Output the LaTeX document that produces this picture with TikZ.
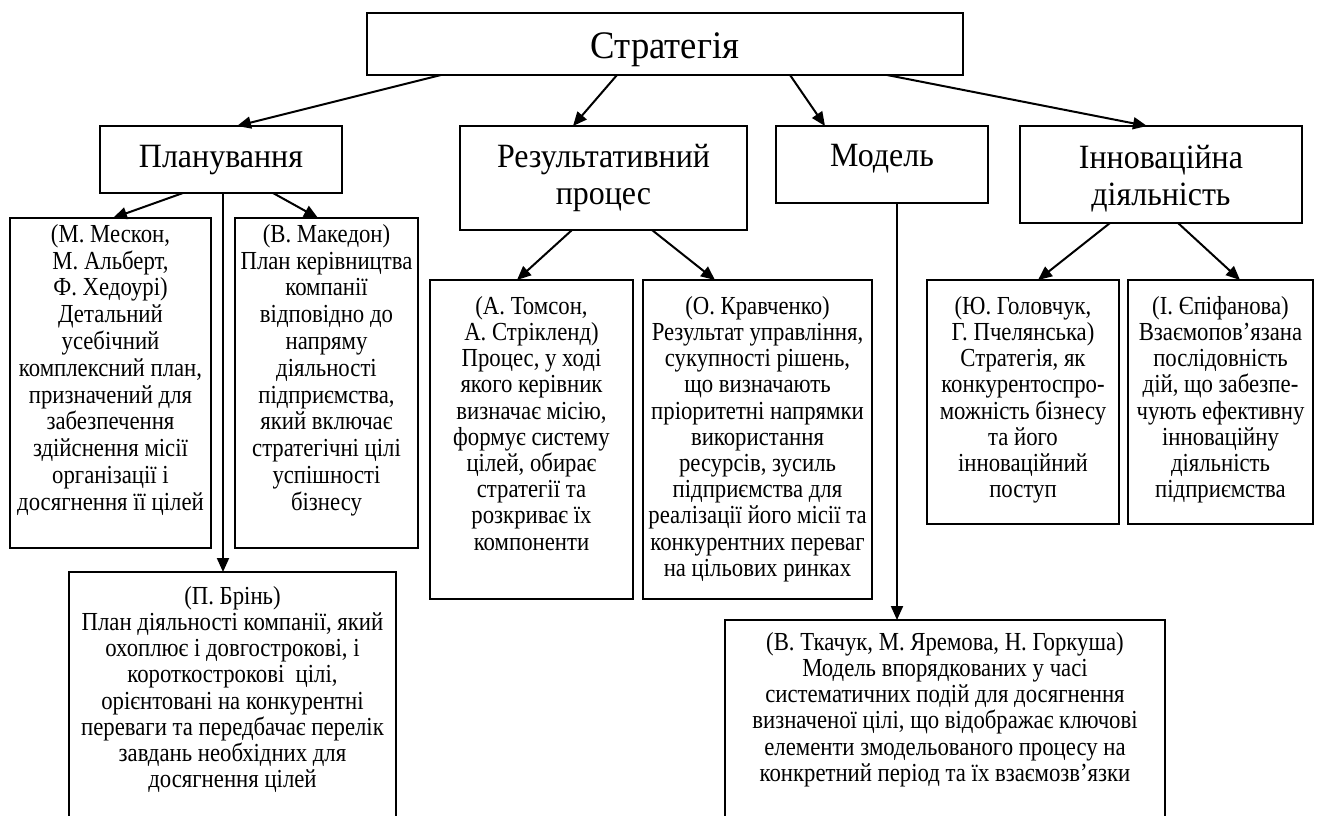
\documentclass[tikz,border=0pt]{standalone}
\usepackage{fontspec}
\setmainfont{Liberation Serif}
\newfontfamily\bodyf{Liberation Serif}[FakeStretch=0.875]
\newfontfamily\headf{Liberation Serif}[FakeStretch=0.94]
\usetikzlibrary{arrows.meta}
\begin{document}
\begin{tikzpicture}[x=1pt,y=-1pt,
  box/.style={draw, line width=1.5pt, inner sep=0pt, outer sep=0pt},
  body/.style={anchor=north, align=center, inner sep=0pt, font=\bodyf\fontsize{26}{26.2}\selectfont},
  bodyw/.style={body, font=\bodyf\fontsize{26}{26.8}\selectfont},
  head/.style={anchor=north, align=center, inner sep=0pt, font=\headf\fontsize{34}{37}\selectfont},
  arr/.style={line width=2pt, -{Triangle[length=14pt,width=12pt]}}]
\useasboundingbox (0,0) rectangle (1317,816);

% boxes
\node[box, minimum width=596pt, minimum height=62pt]  (S) at (665,44) {};
\node[box, minimum width=242pt, minimum height=67pt]  (P) at (221,159.5) {};
\node[box, minimum width=287pt, minimum height=104pt] (R) at (603.5,178) {};
\node[box, minimum width=212pt, minimum height=77pt]  (M) at (882,164.5) {};
\node[box, minimum width=282pt, minimum height=97pt]  (I) at (1161,174.5) {};
\node[box, minimum width=201pt, minimum height=330pt] (A) at (110.5,383) {};
\node[box, minimum width=183pt, minimum height=330pt] (B) at (326.5,383) {};
\node[box, minimum width=327pt, minimum height=250pt] (C) at (232.5,697) {};
\node[box, minimum width=203pt, minimum height=319pt] (D) at (531.5,439.5) {};
\node[box, minimum width=229pt, minimum height=319pt] (E) at (757.5,439.5) {};
\node[box, minimum width=440pt, minimum height=202pt] (F) at (945,721) {};
\node[box, minimum width=192pt, minimum height=244pt] (G) at (1023,402) {};
\node[box, minimum width=185pt, minimum height=244pt] (H) at (1220.5,402) {};

% headings
\node[anchor=base, inner sep=0pt, font=\headf\fontsize{39}{44}\selectfont] (tS) at (665,59) {Стратегія};
\node[head, anchor=base] (tP) at (221,167) {Планування};
\node[head] (tR) at (603.5,144) {Результативний\\процес};
\node[head, anchor=base] (tM) at (882,166) {Модель};
\node[head] (tI) at (1161,145) {Інноваційна\\діяльність};

% body texts
\node[bodyw] (tA) at (110.5,224) {(М. Мескон,\\М. Альберт,\\Ф. Хедоурі)\\Детальний\\усебічний\\комплексний план,\\призначений для\\забезпечення\\здійснення місії\\організації і\\досягнення її цілей};
\node[bodyw] (tB) at (326.5,224) {(В. Македон)\\План керівництва\\компанії\\відповідно до\\напряму\\діяльності\\підприємства,\\який включає\\стратегічні цілі\\успішності\\бізнесу};
\node[body] (tC) at (232.5,586) {(П. Брінь)\\План діяльності компанії, який\\охоплює і довгострокові, і\\короткострокові\ \ цілі,\\орієнтовані на конкурентні\\переваги та передбачає перелік\\завдань необхідних для\\досягнення цілей};
\node[body] (tD) at (531.5,296) {(А. Томсон,\\А. Стрікленд)\\Процес, у ході\\якого керівник\\визначає місію,\\формує систему\\цілей, обирає\\стратегії та\\розкриває їх\\компоненти};
\node[body] (tE) at (757.5,296) {(О. Кравченко)\\Результат управління,\\сукупності рішень,\\що визначають\\пріоритетні напрямки\\використання\\ресурсів, зусиль\\підприємства для\\реалізації його місії та\\конкурентних переваг\\на цільових ринках};
\node[body] (tF) at (945,632) {(В. Ткачук, М. Яремова, Н. Горкуша)\\Модель впорядкованих у часі\\систематичних подій для досягнення\\визначеної цілі, що відображає ключові\\елементи змодельованого процесу на\\конкретний період та їх взаємозв’язки};
\node[body] (tG) at (1023,296) {(Ю. Головчук,\\Г. Пчелянська)\\Стратегія, як\\конкурентоспро-\\можність бізнесу\\та його\\інноваційний\\поступ};
\node[body] (tH) at (1220.5,296) {(І. Єпіфанова)\\Взаємопов’язана\\послідовність\\дій, що забезпе-\\чують ефективну\\інноваційну\\діяльність\\підприємства};

% connectors
\draw[arr] ([xshift=74pt]S.south west)  -- ([xshift=137pt]P.north west);
\draw[arr] ([xshift=250pt]S.south west) -- ([xshift=113pt]R.north west);
\draw[arr] ([xshift=423pt]S.south west) -- ([xshift=49pt]M.north west);
\draw[arr] ([xshift=520pt]S.south west) -- ([xshift=127pt]I.north west);
\draw[arr] ([xshift=83pt]P.south west)  -- ([xshift=103pt]A.north west);
\draw[arr] ([xshift=173pt]P.south west) -- ([xshift=83pt]B.north west);
\draw[arr] ([xshift=123pt]P.south west) -- ([xshift=154pt]C.north west);
\draw[arr] ([xshift=112pt]R.south west) -- ([xshift=87pt]D.north west);
\draw[arr] ([xshift=192pt]R.south west) -- ([xshift=72pt]E.north west);
\draw[arr] ([xshift=121pt]M.south west) -- ([xshift=172pt]F.north west);
\draw[arr] ([xshift=90pt]I.south west)  -- ([xshift=111pt]G.north west);
\draw[arr] ([xshift=158pt]I.south west) -- ([xshift=112pt]H.north west);
\end{tikzpicture}
\end{document}
